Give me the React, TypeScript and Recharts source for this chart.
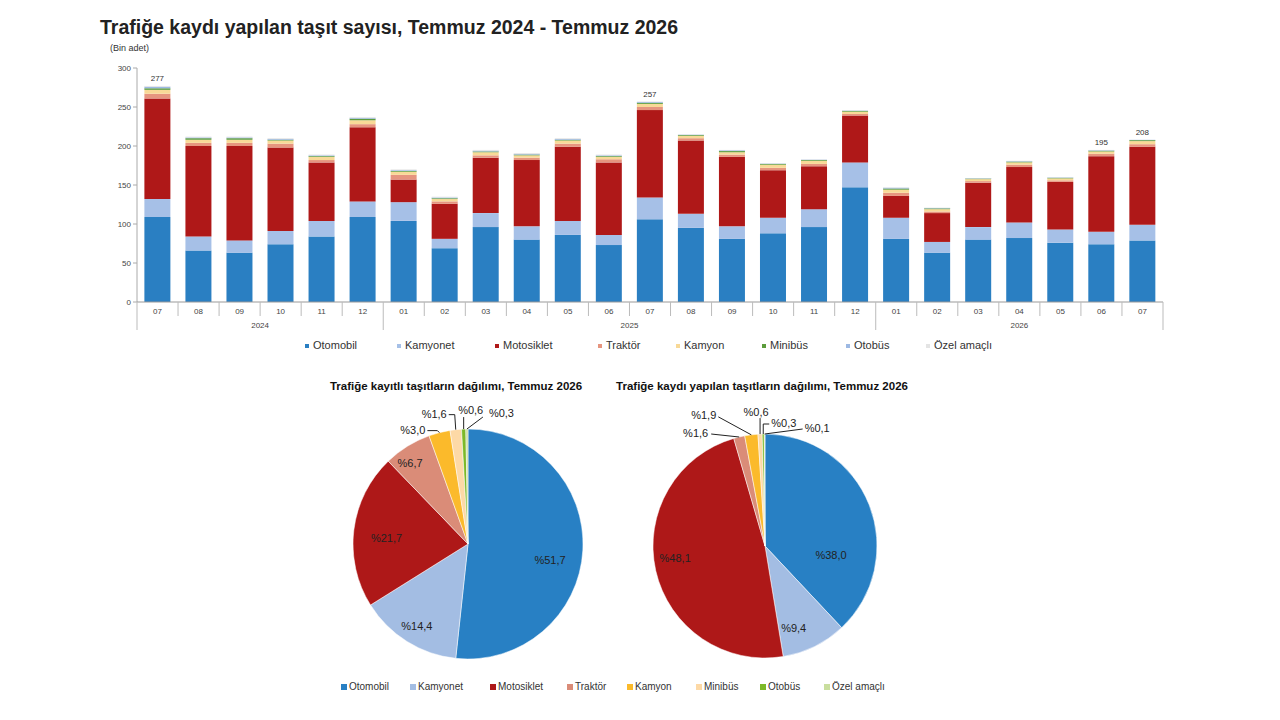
import React from "react";
import { BarChart, Bar, XAxis, YAxis, LabelList, PieChart, Pie, Cell } from "recharts";

const FONT = '"Liberation Sans", Arial, sans-serif';

// --- data (bin adet) ---
const months = ["07", "08", "09", "10", "11", "12", "01", "02", "03", "04", "05", "06", "07", "08", "09", "10", "11", "12", "01", "02", "03", "04", "05", "06", "07"];
const years = [
  { label: "2024", from: 0, to: 5 },
  { label: "2025", from: 6, to: 17 },
  { label: "2026", from: 18, to: 24 },
];
const otomobil = [109, 66, 63, 74, 84, 109, 104, 69, 96, 80, 86, 73, 106, 95, 81, 88, 96, 147, 81, 63, 80, 82, 76, 74, 79];
const kamyonet = [23, 18, 16, 17, 20, 20, 24, 12, 18, 17, 18, 13, 28, 18, 16, 20, 23, 32, 27, 14, 16, 20, 17, 16, 20];
const motosiklet = [129, 116, 121, 107, 75, 95, 29, 45, 71, 85, 95, 93, 112, 94, 89, 61, 55, 60, 28, 37, 57, 71, 61, 97, 100];
const traktor = [6, 4, 4, 5, 3, 4, 6, 3, 3, 3, 4, 4, 4, 3, 3, 3, 3, 2, 4, 2, 2, 3, 2, 3, 3.3];
const kamyon = [5, 4, 4, 4, 4, 5, 4, 3, 4, 3, 4, 3, 4, 3, 3, 4, 4, 3, 4, 3, 2.5, 3, 2.5, 3, 4];
const minibus = [2, 2, 2, 1, 1, 2, 1, 1, 1, 1, 1, 1, 1.5, 1, 1.5, 1, 1, 1, 1.5, 1, 0.7, 1, 0.7, 1, 1.2];
const otobus = [2, 1, 1, 1, 1, 1, 1, 1, 1, 1, 1, 1, 1, 0.5, 1, 0.5, 0.5, 0.5, 1, 0.5, 0.5, 0.6, 0.5, 0.6, 0.4];
const ozel = [1, 1, 1, 1, 1, 1, 1, 1, 1, 1, 1, 1, 0.5, 0.5, 0.5, 0.5, 0.5, 0.5, 0.5, 0.5, 0.3, 0.4, 0.3, 0.4, 0.1];
const totalLabels = ["277", null, null, null, null, null, null, null, null, null, null, null, "257", null, null, null, null, null, null, null, null, null, null, "195", "208"];
const yTicks = [0, 50, 100, 150, 200, 250, 300];

const seriesNames = ["Otomobil", "Kamyonet", "Motosiklet", "Traktör", "Kamyon", "Minibüs", "Otobüs", "Özel amaçlı"];
const seriesKeys = ["otomobil", "kamyonet", "motosiklet", "traktor", "kamyon", "minibus", "otobus", "ozel"];

// pie shares, Temmuz 2026 (%)
const registeredShare = [51.7, 14.4, 21.7, 6.7, 3.0, 1.6, 0.6, 0.3];
const newShare = [38.0, 9.4, 48.1, 1.6, 1.9, 0.6, 0.3, 0.1];

const barColors = ["#2A7FC2", "#A6C0E7", "#AF1818", "#E6957F", "#F8D997", "#5C9C3C", "#9DB9E3", "#E4E4E4"];
const pieColors = ["#2880C4", "#A3BDE3", "#AE1818", "#DA8C78", "#FBBA2B", "#FDD9A6", "#7DB928", "#C9DE9E"];

const barData = months.map((m, i) => ({
  month: m,
  otomobil: otomobil[i],
  kamyonet: kamyonet[i],
  motosiklet: motosiklet[i],
  traktor: traktor[i],
  kamyon: kamyon[i],
  minibus: minibus[i],
  otobus: otobus[i],
  ozel: ozel[i],
  label: totalLabels[i],
}));
const pie1Data = seriesNames.map((n, i) => ({ name: n, value: registeredShare[i] }));
const pie2Data = seriesNames.map((n, i) => ({ name: n, value: newShare[i] }));

// --- layout ---
const PLOT_LEFT = 137;
const PLOT_RIGHT = 1163;
const PLOT_TOP = 68;
const PLOT_BOTTOM = 302;

const MonthTick = (props: any) => {
  const { x, payload } = props;
  const i = props.index ?? payload.index;
  const bw = (PLOT_RIGHT - PLOT_LEFT) / months.length;
  const left = x - bw / 2;
  const yr = years.find((y) => y.from === i);
  return (
    <g>
      <text x={x} y={PLOT_BOTTOM + 12} textAnchor="middle" fontSize={8} fill="#444" fontFamily={FONT}>
        {payload.value}
      </text>
      <line x1={left} x2={left} y1={PLOT_BOTTOM} y2={yr ? PLOT_BOTTOM + 28 : PLOT_BOTTOM + 14} stroke="#bbb" />
      {i === months.length - 1 && (
        <line x1={left + bw} x2={left + bw} y1={PLOT_BOTTOM} y2={PLOT_BOTTOM + 28} stroke="#bbb" />
      )}
      {yr && (
        <text
          x={left + ((yr.to - yr.from + 1) * bw) / 2}
          y={PLOT_BOTTOM + 26}
          textAnchor="middle"
          fontSize={8}
          fill="#444"
          fontFamily={FONT}
        >
          {yr.label}
        </text>
      )}
    </g>
  );
};

const TotalLabel = (props: any) => {
  const { x, y, width, value } = props;
  if (value == null) return null;
  return (
    <text x={x + width / 2} y={y - 5} textAnchor="middle" fontSize={8} fill="#333" fontFamily={FONT}>
      {value}
    </text>
  );
};

const RADIAN = Math.PI / 180;
const fmt = (v: number) => "%" + v.toFixed(1).replace(".", ",");

// nudges for the labels inside the big slices
const pie1Inside: Record<number, number[]> = { 0: [-3, 11], 1: [-6, 10], 2: [3, 4], 3: [-13, -9] };
const pie2Inside: Record<number, number[]> = { 0: [-11, 40], 1: [-8, 8], 2: [-9, -6] };

// leader lines for the thin slices near the top
const pie1Outside: Record<number, any> = {
  4: { pts: [[-2, -2], [-12, -2]], text: [-14, -3], anchor: "end" },
  5: { pts: [[-1, -15], [-7, -15]], text: [-9, -16], anchor: "end" },
  6: { pts: [[0, -12]], text: [7, -19], anchor: "middle" },
  7: { pts: [[16, -12]], text: [22, -16], anchor: "start" },
};
const pie2Outside: Record<number, any> = {
  3: { pts: [[-28, -3]], text: [-31, -4], anchor: "end" },
  4: { pts: [[-33, -18]], text: [-35, -20], anchor: "end" },
  5: { pts: [[0, -16]], text: [-4, -22], anchor: "middle" },
  6: { pts: [[0, -10], [6, -10]], text: [8, -11], anchor: "start" },
  7: { pts: [[38, -5]], text: [40, -6], anchor: "start" },
};

const makePieLabel = (inside: Record<number, number[]>, outside: Record<number, any>) => (props: any) => {
  const { cx, cy, midAngle, outerRadius, index, value } = props;
  const cos = Math.cos(-midAngle * RADIAN);
  const sin = Math.sin(-midAngle * RADIAN);
  const o = outside[index];
  if (!o) {
    const r = outerRadius * 0.74;
    const [dx, dy] = inside[index] || [0, 0];
    return (
      <text x={cx + r * cos + dx} y={cy + r * sin + dy} textAnchor="middle" dominantBaseline="central" fontSize={11} fill="#222" fontFamily={FONT}>
        {fmt(value)}
      </text>
    );
  }
  const ex = cx + outerRadius * cos;
  const ey = cy + outerRadius * sin;
  const points = [[0, 0], ...o.pts].map(([dx, dy]: number[]) => `${ex + dx},${ey + dy}`).join(" ");
  return (
    <g>
      <polyline points={points} fill="none" stroke="#222" strokeWidth={1} />
      <text x={ex + o.text[0]} y={ey + o.text[1]} textAnchor={o.anchor} dominantBaseline="central" fontSize={11} fill="#222" fontFamily={FONT}>
        {fmt(value)}
      </text>
    </g>
  );
};

const LegendRow = ({ top, positions, colors, fontSize, square, gap }: any) => (
  <>
    {seriesNames.map((n, i) => (
      <div
        key={n}
        style={{
          position: "absolute",
          left: positions[i],
          top,
          display: "flex",
          alignItems: "center",
          fontSize,
          color: "#333",
          fontFamily: FONT,
          whiteSpace: "nowrap",
          lineHeight: 1,
        }}
      >
        <span style={{ width: square, height: square, background: colors[i], marginRight: gap, display: "inline-block" }} />
        {n}
      </div>
    ))}
  </>
);

export default function App() {
  return (
    <div style={{ position: "absolute", left: 0, top: 0, width: 1280, height: 720, background: "#fff", fontFamily: FONT }}>
      <div style={{ position: "absolute", left: 100, top: 16, fontSize: 19.5, fontWeight: "bold", color: "#222", whiteSpace: "nowrap" }}>
        Trafiğe kaydı yapılan taşıt sayısı, Temmuz 2024 - Temmuz 2026
      </div>
      <div style={{ position: "absolute", left: 110, top: 43, fontSize: 9, color: "#333" }}>(Bin adet)</div>

      <div style={{ position: "absolute", left: 0, top: 0 }}>
        <BarChart
          width={1280}
          height={340}
          data={barData}
          margin={{ top: PLOT_TOP, right: 1280 - PLOT_RIGHT, left: 0, bottom: 8 }}
          barCategoryGap="18%"
        >
          <YAxis
            width={PLOT_LEFT}
            domain={[0, 300]}
            ticks={yTicks}
            tickSize={4}
            tickLine={{ stroke: "#aaa" }}
            axisLine={{ stroke: "#aaa" }}
            tick={{ fontSize: 8, fill: "#444", fontFamily: FONT }}
          />
          <XAxis
            dataKey="month"
            height={30}
            interval={0}
            tickLine={false}
            axisLine={{ stroke: "#999" }}
            tick={<MonthTick />}
          />
          {seriesKeys.map((k, i) => (
            <Bar key={k} dataKey={k} name={seriesNames[i]} stackId="a" fill={barColors[i]} isAnimationActive={false}>
              {k === "ozel" && <LabelList dataKey="label" content={<TotalLabel />} />}
            </Bar>
          ))}
        </BarChart>
      </div>

      <LegendRow top={340} positions={[305, 397, 495, 598, 676, 762, 846, 926]} colors={barColors} fontSize={11} square={4} gap={4} />

      <div style={{ position: "absolute", left: 306, width: 300, top: 380, textAlign: "center", fontSize: 11.5, fontWeight: "bold", color: "#111", whiteSpace: "nowrap" }}>
        Trafiğe kayıtlı taşıtların dağılımı, Temmuz 2026
      </div>
      <div style={{ position: "absolute", left: 612, width: 300, top: 380, textAlign: "center", fontSize: 11.5, fontWeight: "bold", color: "#111", whiteSpace: "nowrap" }}>
        Trafiğe kaydı yapılan taşıtların dağılımı, Temmuz 2026
      </div>

      <div style={{ position: "absolute", left: 318, top: 394 }}>
        <PieChart width={300} height={300} margin={{ top: 0, right: 0, bottom: 0, left: 0 }}>
          <Pie
            data={pie1Data}
            dataKey="value"
            cx={150}
            cy={150}
            outerRadius={115}
            startAngle={90}
            endAngle={-270}
            stroke="#fff"
            strokeWidth={0.5}
            label={makePieLabel(pie1Inside, pie1Outside)}
            labelLine={false}
            isAnimationActive={false}
          >
            {pie1Data.map((d, i) => (
              <Cell key={d.name} fill={pieColors[i]} />
            ))}
          </Pie>
        </PieChart>
      </div>
      <div style={{ position: "absolute", left: 615, top: 396 }}>
        <PieChart width={300} height={300} margin={{ top: 0, right: 0, bottom: 0, left: 0 }}>
          <Pie
            data={pie2Data}
            dataKey="value"
            cx={150}
            cy={150}
            outerRadius={112}
            startAngle={90}
            endAngle={-270}
            stroke="#fff"
            strokeWidth={0.5}
            label={makePieLabel(pie2Inside, pie2Outside)}
            labelLine={false}
            isAnimationActive={false}
          >
            {pie2Data.map((d, i) => (
              <Cell key={d.name} fill={pieColors[i]} />
            ))}
          </Pie>
        </PieChart>
      </div>

      <LegendRow top={682} positions={[341, 410, 490, 567, 627, 696, 760, 824]} colors={pieColors} fontSize={10} square={6} gap={2} />
    </div>
  );
}
